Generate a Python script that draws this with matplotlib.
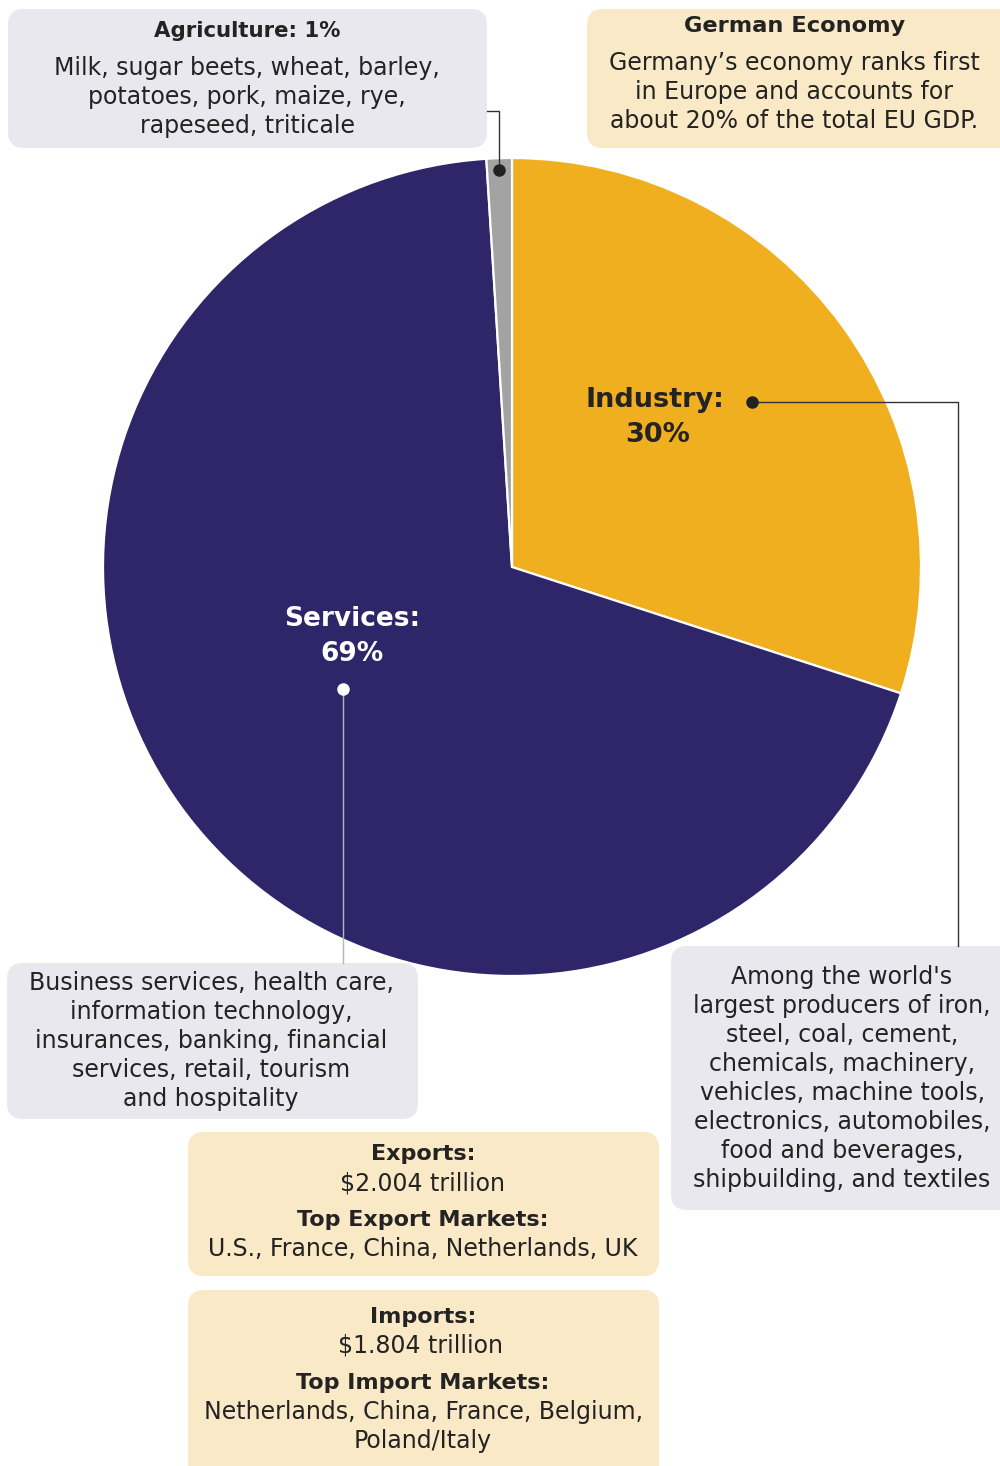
import matplotlib.pyplot as plt
from matplotlib.patches import FancyBboxPatch

# GDP composition by sector (percent)
sectors = ["Industry", "Services", "Agriculture"]
shares = [30, 69, 1]
sector_colors = ["#F0AF1E", "#2F266A", "#A3A3A3"]

agri_notes = ["Milk, sugar beets, wheat, barley,", "potatoes, pork, maize, rye,", "rapeseed, triticale"]
econ_notes = ["Germany\u2019s economy ranks first", "in Europe and accounts for", "about 20% of the total EU GDP."]
services_notes = ["Business services, health care,", "information technology,",
                  "insurances, banking, financial", "services, retail, tourism", "and hospitality"]
industry_notes = ["Among the world's", "largest producers of iron,", "steel, coal, cement,",
                  "chemicals, machinery,", "vehicles, machine tools,", "electronics, automobiles,",
                  "food and beverages,", "shipbuilding, and textiles"]
exports_value = "$2.004 trillion"
export_markets = ["U.S., France, China, Netherlands, UK"]
imports_value = "$1.804 trillion"
import_markets = ["Netherlands, China, France, Belgium,", "Poland/Italy"]

W, H = 1000, 1466
TXT = "#232323"
GRAY_BOX = "#E9E8EE"
YEL_BOX = "#FAE9C6"
plt.rcParams['font.family'] = ['DejaVu Sans']

fig = plt.figure(figsize=(W / 100, H / 100), dpi=100)
ax = fig.add_axes([0, 0, 1, 1])


def Y(y):
    # work in top-down pixel units
    return H - y


def box(x0, y0, x1, y1, color):
    ax.add_patch(FancyBboxPatch((x0, Y(y1)), x1 - x0, y1 - y0,
                                boxstyle="round,pad=0,rounding_size=16",
                                fc=color, ec='none', zorder=1))


def txt(x, y, s, bold=False, size=17, color=TXT):
    ax.text(x, Y(y), s, ha='center', va='center', fontsize=size,
            fontweight='bold' if bold else 'normal', color=color, zorder=5)


def lines(x, y, rows, step=29, **kw):
    for i, r in enumerate(rows):
        txt(x, y + i * step, r, **kw)


# pie
ax.pie(shares, colors=sector_colors, startangle=90, counterclock=False,
       center=(512, Y(567)), radius=409, frame=True,
       wedgeprops=dict(edgecolor='white', linewidth=1.6))
ax.set_xlim(0, W)
ax.set_ylim(0, H)
ax.set_aspect('equal')
ax.axis('off')

# sector labels
txt(655, 400, f"{sectors[0]}:", bold=True, size=19.5)
txt(658, 435, f"{shares[0]}%", bold=True, size=19.5)
txt(352, 619, f"{sectors[1]}:", bold=True, size=19, color='white')
txt(352, 654, f"{shares[1]}%", bold=True, size=19, color='white')

# boxes
box(8, 9, 487, 148, GRAY_BOX)
box(587, 9, 1016, 148, YEL_BOX)
box(7, 963, 418, 1119, GRAY_BOX)
box(671, 946, 1016, 1210, GRAY_BOX)
box(188, 1132, 659, 1276, YEL_BOX)
box(188, 1290, 659, 1490, YEL_BOX)

txt(247, 31, f"{sectors[2]}: {shares[2]}%", bold=True, size=15.3)
lines(247, 68, agri_notes)
txt(795, 26, "German Economy", bold=True, size=16.2)
lines(794, 63, econ_notes)
lines(211, 983, services_notes)
lines(842, 977, industry_notes)

txt(423, 1154, "Exports:", bold=True, size=16)
txt(423, 1183, exports_value)
txt(423, 1220, "Top Export Markets:", bold=True, size=16)
lines(423, 1249, export_markets)
txt(423, 1317, "Imports:", bold=True, size=16)
txt(420, 1346, imports_value)
txt(423, 1383, "Top Import Markets:", bold=True, size=16)
lines(423, 1412, import_markets)

# leader lines
ax.plot([752, 958, 958], [Y(402), Y(402), Y(946)], color='#333333', lw=1, zorder=4)
ax.plot([752], [Y(402)], 'o', color='#222222', ms=8, zorder=6)
ax.plot([343, 343], [Y(689), Y(963)], color='#B5B5BB', lw=1, zorder=4)
ax.plot([343], [Y(689)], 'o', color='white', ms=8, zorder=6)
ax.plot([487, 499, 499], [Y(111), Y(111), Y(170)], color='#333333', lw=1, zorder=4)
ax.plot([499], [Y(170)], 'o', color='#222222', ms=8, zorder=6)

fig.savefig("out.png", dpi=100)
